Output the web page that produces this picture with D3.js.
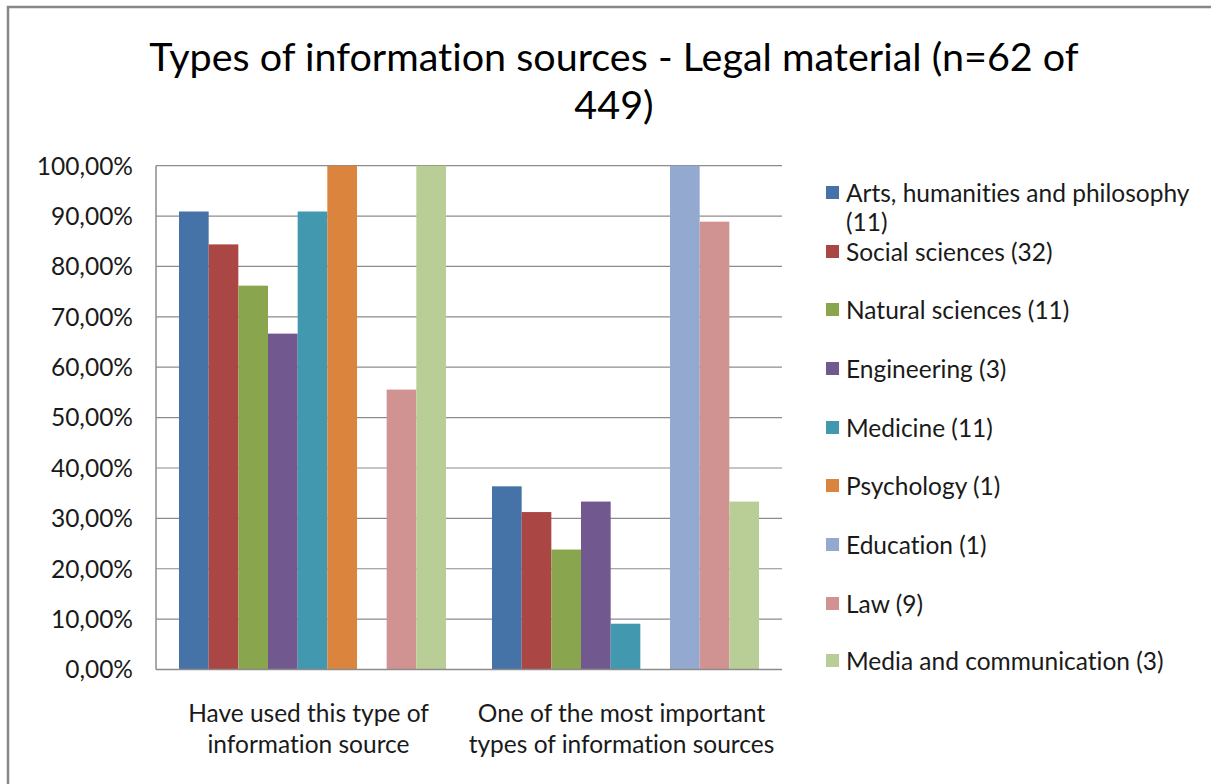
<!DOCTYPE html>
<html>
<head>
<meta charset="utf-8">
<script src="https://cdn.jsdelivr.net/npm/d3@7"></script>
<style>
  html, body { margin: 0; padding: 0; background: #fff; }
  svg { display: block; font-family: Lato, "Open Sans", sans-serif;
        font-variant-ligatures: none; font-feature-settings: "liga" 0; }
</style>
</head>
<body>
<svg id="chart" width="1211" height="784"></svg>
<script>
// Survey groups (x-axis categories)
const categories = [
  "Have used this type of information source",
  "One of the most important types of information sources"
];
const categoryLines = [
  ["Have used this type of", "information source"],
  ["One of the most important", "types of information sources"]
];

// Disciplines (series)
const series = [
  "Arts, humanities and philosophy (11)",
  "Social sciences (32)",
  "Natural sciences (11)",
  "Engineering (3)",
  "Medicine (11)",
  "Psychology (1)",
  "Education (1)",
  "Law (9)",
  "Media and communication (3)"
];
const colors = ["#4572A7", "#AA4643", "#89A54E", "#71588F", "#4198AF",
                "#DB843D", "#93A9CF", "#D19392", "#B9CD96"];

// Share of respondents (%) per series, one value per category
const haveUsed      = [90.91, 84.38, 76.19, 66.67, 90.91, 100, 0, 55.56, 100];
const mostImportant = [36.36, 31.25, 23.81, 33.33, 9.09, 0, 100, 88.89, 33.33];
const values = [haveUsed, mostImportant];

const yTicks = [0, 10, 20, 30, 40, 50, 60, 70, 80, 90, 100];

const labelSize = 24.5;
const svg = d3.select("#chart");

// Outer frame
svg.append("rect")
  .attr("x", 8).attr("y", 7).attr("width", 1230).attr("height", 800)
  .attr("fill", "none").attr("stroke", "#878787").attr("stroke-width", 2.5);

// Title
const title = svg.append("text")
  .attr("text-anchor", "middle")
  .attr("font-size", 39.5)
  .attr("fill", "#000");
title.append("tspan").attr("x", 614).attr("y", 71)
  .text("Types of information sources - Legal material (n=62 of");
title.append("tspan").attr("x", 614).attr("y", 119).text("449)");

const plot = { left: 156, right: 782, top: 165.7, bottom: 669.5 };

const x0 = d3.scaleBand().domain(d3.range(categories.length))
  .range([plot.left, plot.right]).padding(0);
const groupPad = 23;
const x1 = d3.scaleBand().domain(d3.range(series.length))
  .range([groupPad, x0.bandwidth() - groupPad]).padding(0);
const y = d3.scaleLinear().domain([0, 100]).range([plot.bottom, plot.top]);

// Gridlines
svg.append("g")
  .selectAll("line").data(yTicks.filter(t => t > 0)).join("line")
  .attr("x1", plot.left).attr("x2", plot.right)
  .attr("y1", d => y(d)).attr("y2", d => y(d))
  .attr("stroke", "#8c8c8c").attr("stroke-width", 1.2);

// Y axis labels
const fmt = d => d.toFixed(2).replace(".", ",") + "%";
svg.append("g")
  .selectAll("text").data(yTicks).join("text")
  .attr("x", 133).attr("y", d => y(d))
  .attr("dy", "0.36em")
  .attr("text-anchor", "end")
  .attr("font-size", labelSize)
  .attr("fill", "#1a1a1a")
  .text(fmt);

// Bars
const groups = svg.append("g").selectAll("g").data(values).join("g")
  .attr("transform", (d, i) => `translate(${x0(i)},0)`);
groups.selectAll("rect")
  .data(d => d.map((v, j) => ({ v, j })).filter(e => e.v > 0))
  .join("rect")
  .attr("x", e => x1(e.j))
  .attr("width", x1.bandwidth())
  .attr("y", e => y(e.v))
  .attr("height", e => y(0) - y(e.v))
  .attr("fill", e => colors[e.j]);

// Axis lines
svg.append("line")
  .attr("x1", plot.left).attr("x2", plot.left)
  .attr("y1", plot.top).attr("y2", plot.bottom)
  .attr("stroke", "#8c8c8c").attr("stroke-width", 1.5);
svg.append("line")
  .attr("x1", plot.left).attr("x2", plot.right)
  .attr("y1", plot.bottom).attr("y2", plot.bottom)
  .attr("stroke", "#8c8c8c").attr("stroke-width", 1.5);

// Category labels
categoryLines.forEach((lines, i) => {
  const t = svg.append("text")
    .attr("text-anchor", "middle")
    .attr("font-size", labelSize)
    .attr("fill", "#1a1a1a");
  lines.forEach((ln, k) => {
    t.append("tspan")
      .attr("x", x0(i) + x0.bandwidth() / 2 - 4)
      .attr("y", 722 + k * 31)
      .text(ln);
  });
});

// Legend
const legendY = [193, 252, 310, 369, 428, 486, 545, 604, 661];
const legend = svg.append("g");
series.forEach((name, i) => {
  const cy = legendY[i];
  legend.append("rect")
    .attr("x", 826).attr("y", cy - 7).attr("width", 13).attr("height", 13)
    .attr("fill", colors[i]);
  const t = legend.append("text")
    .attr("font-size", labelSize).attr("fill", "#1a1a1a");
  if (i === 0) {
    t.append("tspan").attr("x", 846).attr("y", cy).attr("dy", "0.36em")
      .text("Arts, humanities and philosophy");
    t.append("tspan").attr("x", 846).attr("y", cy + 29).attr("dy", "0.36em")
      .text("(11)");
  } else {
    t.attr("x", 846).attr("y", cy).attr("dy", "0.36em").text(name);
  }
});
</script>
</body>
</html>
